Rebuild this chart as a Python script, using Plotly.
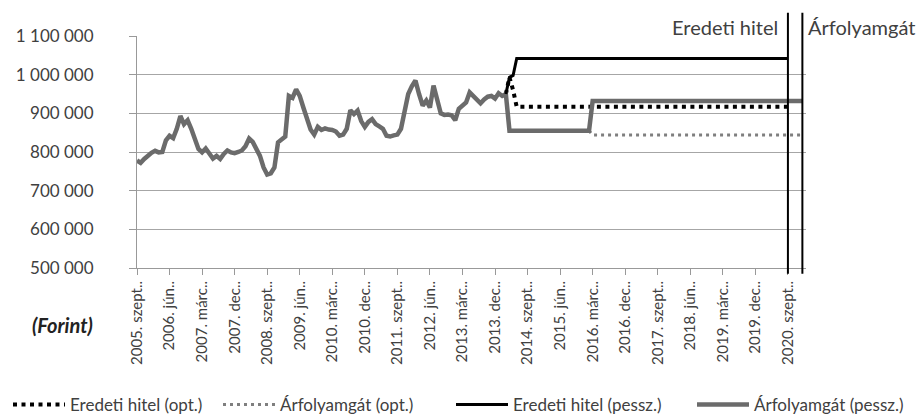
import plotly.graph_objects as go

# ---------------- data ----------------
tick_labels = ["2005. szept..", "2006. jún..", "2007. márc..", "2007. dec..", "2008. szept..",
               "2009. jún..", "2010. márc..", "2010. dec..", "2011. szept..", "2012. jún..",
               "2013. márc..", "2013. dec..", "2014. szept..", "2015. jún..", "2016. márc..",
               "2016. dec..", "2017. szept..", "2018. jún..", "2019. márc..", "2019. dec..",
               "2020. szept.."]
tick_months = [0, 9, 18, 27, 36, 45, 54, 63, 72, 81, 90, 99, 108, 117, 126, 135, 144, 153, 162, 171, 180]

# monthly history (Forint), month index 0 = 2005 szept.
history = [778000, 772000, 782000, 792000, 798000, 803000, 799000, 800000, 830000, 842000,
           836000, 860000, 893000, 872000, 882000, 860000, 830000, 808000, 799000, 809000,
           796000, 783000, 790000, 782000, 795000, 804000, 799000, 797000, 800000, 804000,
           815000, 835000, 826000, 810000, 790000, 760000, 742000, 745000, 760000, 825000,
           833000, 840000, 945000, 940000, 962000, 945000, 915000, 890000, 858000, 845000,
           865000, 857000, 861000, 858000, 857000, 853000, 842000, 845000, 860000, 908000,
           898000, 907000, 880000, 865000, 878000, 885000, 872000, 866000, 860000, 842000,
           840000, 843000, 845000, 860000, 905000, 950000, 970000, 985000, 950000, 920000,
           933000, 915000, 972000, 930000, 900000, 896000, 897000, 895000, 882000, 912000,
           920000, 928000, 954000, 945000, 935000, 926000, 936000, 943000, 945000, 938000,
           952000, 945000, 950000]
history_months = list(range(len(history)))

# projections (month index, value)
eredeti_opt_months = [102, 103, 104, 105, 180]
eredeti_opt_values = [950000, 993000, 960000, 917000, 917000]

arfolyam_opt_months = [125, 126, 184]
arfolyam_opt_values = [855000, 844000, 844000]

eredeti_pessz_months = [102, 103, 104, 105, 180]
eredeti_pessz_values = [950000, 993000, 998000, 1042000, 1042000]

arfolyam_pessz_months = history_months + [103, 125, 126, 184]
arfolyam_pessz_values = history + [855000, 855000, 932000, 932000]

end_months = [180, 184]
end_labels = ["Eredeti hitel", "Árfolyamgát"]

y_ticks = [500000, 600000, 700000, 800000, 900000, 1000000, 1100000]

# ---------------- figure ----------------
FONT = "Lato"
TXT = "#404040"
GRAY = "#6b6b6b"

fig = go.Figure()

fig.add_trace(go.Scatter(x=eredeti_opt_months, y=eredeti_opt_values, mode="lines",
                         name="Eredeti hitel (opt.)", legend="legend",
                         line=dict(color="#000000", width=4, dash="4px,4.5px")))
fig.add_trace(go.Scatter(x=arfolyam_opt_months, y=arfolyam_opt_values, mode="lines",
                         name="Árfolyamgát (opt.)", legend="legend2",
                         line=dict(color="#7f7f7f", width=3, dash="3px,4px")))
fig.add_trace(go.Scatter(x=arfolyam_pessz_months, y=arfolyam_pessz_values, mode="lines",
                         name="Árfolyamgát (pessz.)", legend="legend4",
                         line=dict(color=GRAY, width=4.5)))
fig.add_trace(go.Scatter(x=eredeti_pessz_months, y=eredeti_pessz_values, mode="lines",
                         name="Eredeti hitel (pessz.)", legend="legend3",
                         line=dict(color="#000000", width=3)))

# vertical end-of-term lines
for m in end_months:
    fig.add_shape(type="line", xref="x", yref="paper", x0=m, x1=m,
                  y0=-0.025, y1=1.1, line=dict(color="#000000", width=2))

fig.add_annotation(x=end_months[0], y=1.04, xref="x", yref="paper", text=end_labels[0],
                   showarrow=False, xanchor="right", yanchor="middle", xshift=-8,
                   font=dict(family=FONT, size=20, color=TXT))
fig.add_annotation(x=end_months[1], y=1.04, xref="x", yref="paper", text=end_labels[1],
                   showarrow=False, xanchor="left", yanchor="middle", xshift=4,
                   font=dict(family=FONT, size=20, color=TXT))

PLOT_L, PLOT_W, PLOT_B, PLOT_H = 137, 669, 268, 232
fig.add_annotation(x=(62 - PLOT_L) / PLOT_W, y=(PLOT_B - 325) / PLOT_H,
                   xref="paper", yref="paper",
                   text="<b><i>(Forint)</i></b>", showarrow=False,
                   xanchor="center", yanchor="middle",
                   font=dict(family=FONT, size=20, color="#222222"))

legend_common = dict(orientation="h", xref="container", yref="container",
                     yanchor="middle", xanchor="left", bgcolor="rgba(0,0,0,0)",
                     itemwidth=52, font=dict(family=FONT, size=17, color=TXT),
                     tracegroupgap=0)
leg_x = [8, 218, 451, 692]
leg_y = 1 - 405 / 419

fig.update_layout(
    width=923, height=419,
    margin=dict(l=PLOT_L, r=923 - PLOT_L - PLOT_W, t=36, b=419 - PLOT_B, autoexpand=False),
    paper_bgcolor="#ffffff", plot_bgcolor="#ffffff",
    separators=". ",
    showlegend=True,
    legend=dict(x=leg_x[0] / 923, y=leg_y, **legend_common),
    legend2=dict(x=leg_x[1] / 923, y=leg_y, **legend_common),
    legend3=dict(x=leg_x[2] / 923, y=leg_y, **legend_common),
    legend4=dict(x=leg_x[3] / 923, y=leg_y, **legend_common),
    xaxis=dict(range=[0, 185], tickvals=tick_months, ticktext=tick_labels,
               tickangle=-90, ticks="outside", ticklen=6, tickcolor="#999999",
               showgrid=False, zeroline=False, showline=True, linecolor="#999999",
               linewidth=1, tickfont=dict(family=FONT, size=15, color=TXT)),
    yaxis=dict(range=[500000, 1100000], tickvals=y_ticks, tickformat=",.0f",
               ticks="outside", ticklen=7, tickcolor="#999999", ticklabelstandoff=32,
               showgrid=True, gridcolor="#a6a6a6", gridwidth=1,
               zeroline=False, showline=True, linecolor="#999999", linewidth=1,
               tickfont=dict(family=FONT, size=17, color=TXT)),
)

fig.write_html("out.html", post_script="document.body.style.margin='0';",
               config={"displayModeBar": False})
